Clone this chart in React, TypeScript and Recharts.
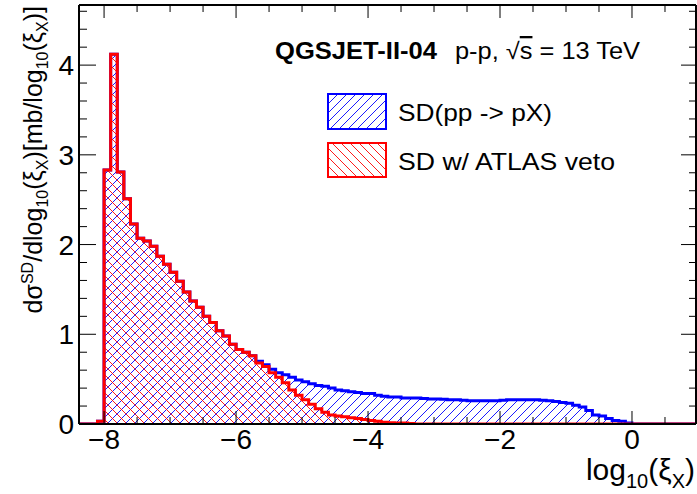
import React from "react";
import { ComposedChart, Area, XAxis, YAxis, ReferenceLine } from "recharts";

// histogram binning: 0.1 wide bins in log10(xi_X), first edge at -8.4
const BIN_START = -8.4;
const BIN_WIDTH = 0.1;

// SD(pp -> pX), one value per bin
const sdAll = [
  0, 0, 0, 0.03,
  2.83, 4.12, 2.81, 2.51, 2.23, 2.07, 2.04, 1.98, 1.87, 1.78,
  1.69, 1.59, 1.47, 1.37, 1.3, 1.2, 1.13, 1.04, 0.98, 0.89,
  0.83, 0.8, 0.76, 0.7, 0.66, 0.61, 0.57, 0.55, 0.52, 0.49,
  0.47, 0.45, 0.43, 0.42, 0.4, 0.38, 0.37, 0.36, 0.35, 0.34,
  0.34, 0.32, 0.31, 0.3, 0.3, 0.29, 0.29, 0.29, 0.285, 0.28,
  0.28, 0.275, 0.27, 0.27, 0.265, 0.26, 0.26, 0.26, 0.26, 0.26,
  0.265, 0.27, 0.27, 0.27, 0.27, 0.27, 0.265, 0.26, 0.25, 0.24,
  0.23, 0.21, 0.19, 0.15, 0.1, 0.09, 0.06, 0.04, 0.03, 0.01,
  0, 0, 0, 0, 0, 0, 0, 0, 0, 0,
];

// SD with ATLAS veto
const sdVeto = [
  0, 0, 0, 0.03,
  2.83, 4.12, 2.81, 2.51, 2.23, 2.07, 2.04, 1.98, 1.87, 1.78,
  1.69, 1.59, 1.47, 1.37, 1.3, 1.2, 1.13, 1.04, 0.98, 0.89,
  0.83, 0.8, 0.76, 0.68, 0.64, 0.57, 0.52, 0.46, 0.38, 0.32,
  0.27, 0.22, 0.17, 0.13, 0.1, 0.09, 0.08, 0.07, 0.06, 0.05,
  0.04, 0.03, 0.02, 0.015, 0.01, 0.01, 0.005, 0, 0, 0,
  0, 0, 0, 0, 0, 0, 0, 0, 0, 0,
  0, 0, 0, 0, 0, 0, 0, 0, 0, 0,
  0, 0, 0, 0, 0, 0, 0, 0, 0, 0,
  0, 0, 0, 0, 0, 0, 0, 0, 0, 0,
];

const X_TICKS = [-8, -7.5, -7, -6.5, -6, -5.5, -5, -4.5, -4, -3.5, -3, -2.5, -2, -1.5, -1, -0.5, 0, 0.5];
const X_LABELS: Record<string, string> = { "-8": "\u22128", "-6": "\u22126", "-4": "\u22124", "-2": "\u22122", "0": "0" };
const Y_TICKS = [0, 0.2, 0.4, 0.6, 0.8, 1, 1.2, 1.4, 1.6, 1.8, 2, 2.2, 2.4, 2.6, 2.8, 3, 3.2, 3.4, 3.6, 3.8, 4, 4.2, 4.4, 4.6];
const Y_LABELS: Record<string, string> = { "0": "0", "1": "1", "2": "2", "3": "3", "4": "4" };

const X_DOMAIN: [number, number] = [-8.38, 0.97];
const Y_DOMAIN: [number, number] = [0, 4.67];

// frame edges in pixels (plot area)
const PLOT_TOP = 5;
const PLOT_RIGHT = 696;

const FONT = '"Liberation Sans", Arial, Helvetica, sans-serif';

// step data: one row per bin edge, last edge closes the histogram
const rows = sdAll.map((v, i) => ({
  x: Math.round((BIN_START + i * BIN_WIDTH) * 10) / 10,
  all: v,
  veto: sdVeto[i],
}));
rows.push({ x: Math.round((BIN_START + sdAll.length * BIN_WIDTH) * 10) / 10, all: 0, veto: 0 });

// bottom ticks, mirrored on the top frame
const XTick = (props: any) => {
  const { x, y, payload } = props;
  const label = X_LABELS[String(payload.value)];
  const len = label ? 13 : 7;
  return (
    <g>
      <line x1={x} y1={y} x2={x} y2={y - len} stroke="#000" strokeWidth={1} />
      <line x1={x} y1={PLOT_TOP} x2={x} y2={PLOT_TOP + len} stroke="#000" strokeWidth={1} />
      {label && (
        <text x={x} y={y + 25} textAnchor="middle" fontSize={28} fontFamily={FONT} fill="#000">
          {label}
        </text>
      )}
    </g>
  );
};

// left ticks, mirrored on the right frame
const YTick = (props: any) => {
  const { x, y, payload } = props;
  const label = Y_LABELS[String(payload.value)];
  return (
    <g>
      <line x1={x} y1={y} x2={x + (label ? 17 : 8)} y2={y} stroke="#000" strokeWidth={1} />
      <line x1={PLOT_RIGHT} y1={y} x2={PLOT_RIGHT - (label ? 15 : 7)} y2={y} stroke="#000" strokeWidth={1} />
      {label && (
        <text x={x - 5} y={y + 10} textAnchor="end" fontSize={28} fontFamily={FONT} fill="#000">
          {label}
        </text>
      )}
    </g>
  );
};

export default function App() {
  return (
    <div style={{ position: "absolute", left: 0, top: 0, width: 697, height: 494, background: "#fff" }}>
      <ComposedChart width={697} height={494} data={rows} margin={{ top: 5, right: 1, bottom: 0, left: 0 }}>
        <defs>
          <pattern id="hatchBlue" patternUnits="userSpaceOnUse" width={9} height={9}>
            <path d="M-1,1 l2,-2 M0,9 l9,-9 M8,10 l2,-2" stroke="#0000ff" strokeWidth={0.9} />
          </pattern>
          <pattern id="hatchRed" patternUnits="userSpaceOnUse" width={9} height={9}>
            <path d="M-1,8 l2,2 M0,0 l9,9 M8,-1 l2,2" stroke="#ff0000" strokeWidth={0.9} />
          </pattern>
        </defs>

        <XAxis
          dataKey="x"
          type="number"
          domain={X_DOMAIN}
          allowDataOverflow
          ticks={X_TICKS}
          interval={0}
          tickSize={0}
          tickMargin={0}
          height={70}
          tickLine={false}
          axisLine={{ stroke: "#000", strokeWidth: 2 }}
          tick={XTick}
        />
        <YAxis
          type="number"
          domain={Y_DOMAIN}
          allowDataOverflow
          ticks={Y_TICKS}
          interval={0}
          tickSize={0}
          tickMargin={0}
          width={79}
          tickLine={false}
          axisLine={{ stroke: "#000", strokeWidth: 2 }}
          tick={YTick}
        />

        <Area
          type="stepAfter"
          dataKey="all"
          stroke="#0000ff"
          strokeWidth={3}
          fill="url(#hatchBlue)"
          fillOpacity={1}
          dot={false}
          activeDot={false}
          isAnimationActive={false}
        />
        <Area
          type="stepAfter"
          dataKey="veto"
          stroke="#ff0000"
          strokeWidth={3}
          fill="url(#hatchRed)"
          fillOpacity={1}
          dot={false}
          activeDot={false}
          isAnimationActive={false}
        />

        {/* top and right frame edges */}
        <ReferenceLine y={Y_DOMAIN[1]} stroke="#000" strokeWidth={2} />
        <ReferenceLine x={X_DOMAIN[1]} stroke="#000" strokeWidth={2} />

        {/* header */}
        <text x={275} y={59} fontSize={23} fontWeight="bold" fontFamily={FONT} textLength={162} lengthAdjust="spacingAndGlyphs">
          QGSJET-II-04
        </text>
        <text x={455} y={59} fontSize={23} fontFamily={FONT} textLength={185} lengthAdjust="spacingAndGlyphs">
          p-p, {"\u221A"}
          <tspan style={{ textDecoration: "overline" }}>s</tspan> = 13 TeV
        </text>

        {/* legend */}
        <rect x={328} y={94} width={58} height={35} fill="url(#hatchBlue)" stroke="#0000ff" strokeWidth={2} />
        <text x={398} y={121} fontSize={24} fontFamily={FONT} textLength={154} lengthAdjust="spacingAndGlyphs">
          SD(pp -&gt; pX)
        </text>
        <rect x={328} y={143} width={58} height={34} fill="url(#hatchRed)" stroke="#ff0000" strokeWidth={2} />
        <text x={398} y={170} fontSize={24} fontFamily={FONT} textLength={217} lengthAdjust="spacingAndGlyphs">
          SD w/ ATLAS veto
        </text>

        {/* axis titles */}
        <text x={695} y={480} textAnchor="end" fontSize={30} fontFamily={FONT}>
          log<tspan fontSize={20} dy={8}>10</tspan>
          <tspan dy={-8}>({"\u03BE"}</tspan>
          <tspan fontSize={20} dy={8}>X</tspan>
          <tspan dy={-8}>)</tspan>
        </text>
        <text x={42} y={6} transform="rotate(-90, 42, 6)" textAnchor="end" fontSize={25} fontFamily={FONT}>
          d{"\u03C3"}
          <tspan fontSize={16} dy={-9}>SD</tspan>
          <tspan dy={9}>/dlog</tspan>
          <tspan fontSize={16} dy={6}>10</tspan>
          <tspan dy={-6}>({"\u03BE"}</tspan>
          <tspan fontSize={16} dy={6}>X</tspan>
          <tspan dy={-6}>)[mb/log</tspan>
          <tspan fontSize={16} dy={6}>10</tspan>
          <tspan dy={-6}>({"\u03BE"}</tspan>
          <tspan fontSize={16} dy={6}>X</tspan>
          <tspan dy={-6}>)]</tspan>
        </text>
      </ComposedChart>
    </div>
  );
}
